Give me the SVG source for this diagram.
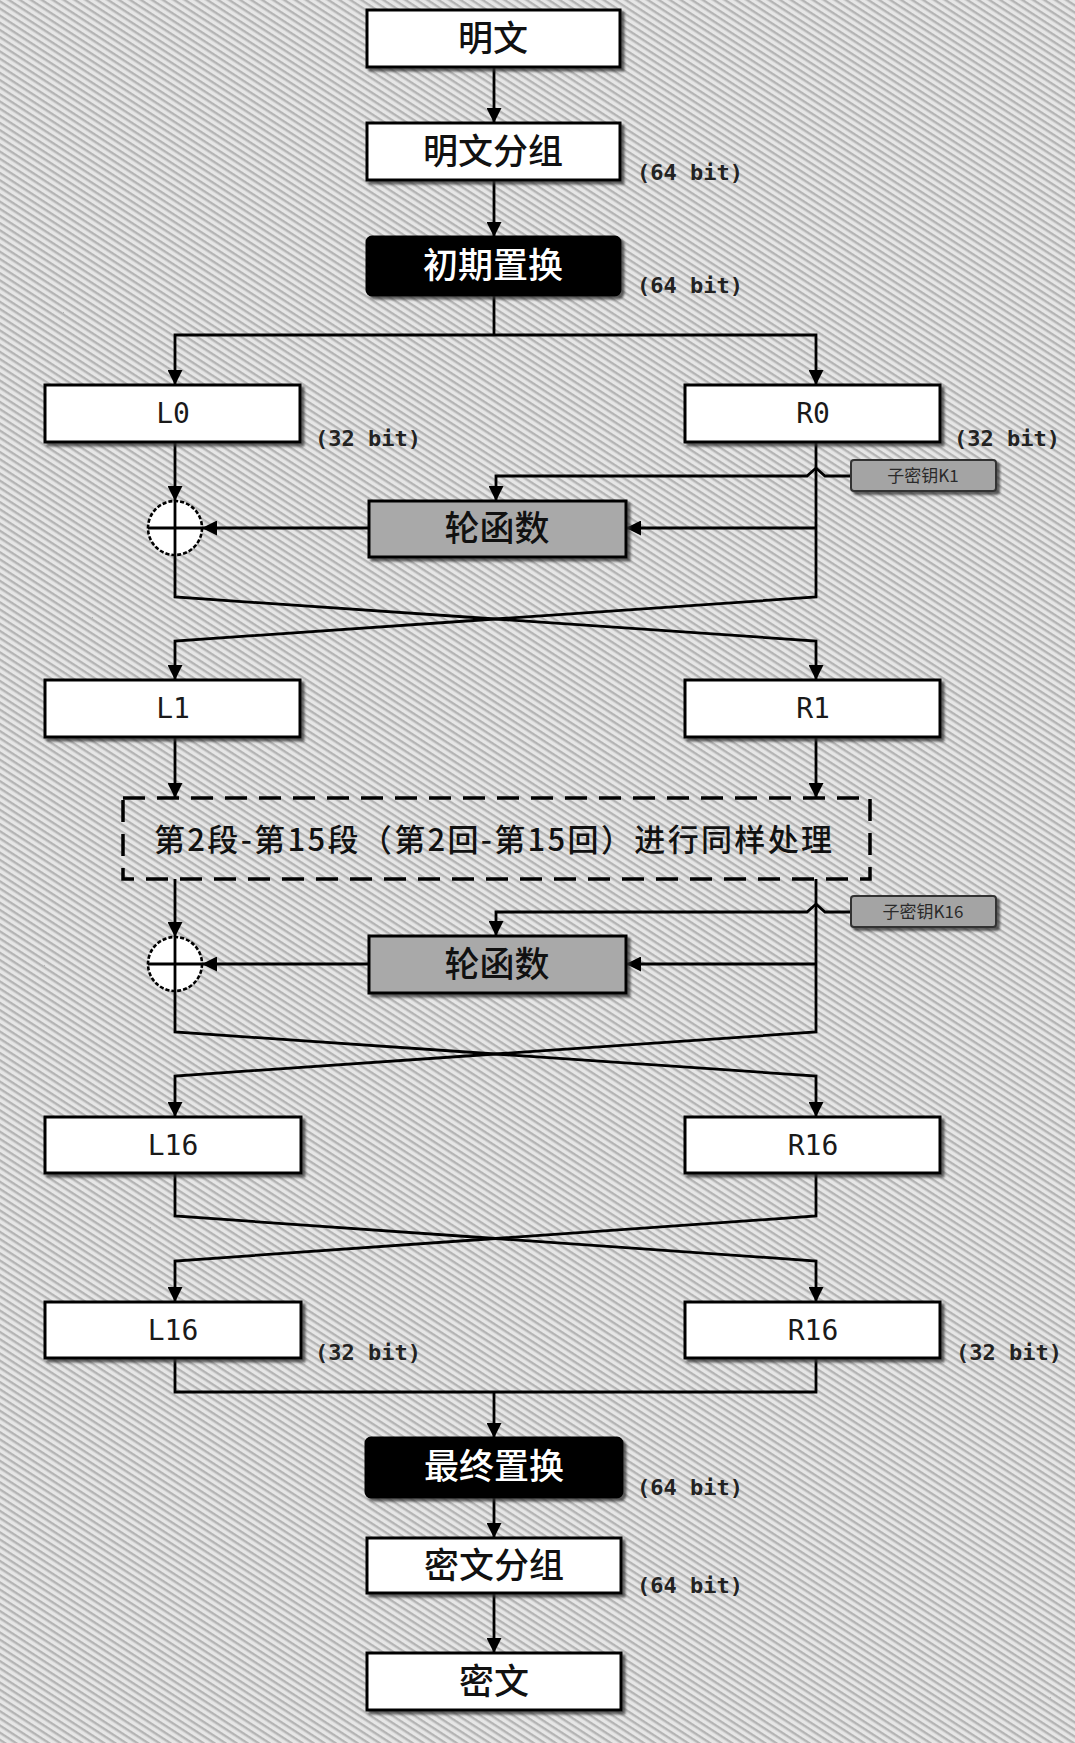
<svg xmlns="http://www.w3.org/2000/svg" width="1075" height="1743" viewBox="0 0 1075 1743">
  <defs>
    <!-- diagonal hatch background -->
    <pattern id="hatch" patternUnits="userSpaceOnUse" width="6" height="6" patternTransform="rotate(33)">
      <rect width="6" height="6" fill="#e6e6e6"/>
      <rect y="0" width="6" height="2.4" fill="#b4b4b4"/>
    </pattern>
    <filter id="shadow" x="-10%" y="-20%" width="125%" height="150%">
      <feDropShadow dx="3" dy="3" stdDeviation="1.2" flood-color="#333" flood-opacity="0.75"/>
    </filter>
    <marker id="arrow" viewBox="0 0 16 16" refX="16" refY="8" markerWidth="15" markerHeight="15" markerUnits="userSpaceOnUse" orient="auto">
      <path d="M0,0 L16,8 L0,16 z" fill="#000"/>
    </marker>
    <style>
      .box { fill: #fff; stroke: #000; stroke-width: 3; filter: url(#shadow); }
      .dark { fill: #000; stroke: #000; stroke-width: 3; filter: url(#shadow); }
      .func { fill: #a9a9a9; stroke: #000; stroke-width: 3; filter: url(#shadow); }
      .key { fill: #a4a4a4; stroke: #333; stroke-width: 2; filter: url(#shadow); }
      .cjk { font-family: "Noto Sans CJK SC", "Noto Sans", sans-serif; font-size: 35px; font-weight: 500; text-anchor: middle; fill: #111; }
      .cjk-w { font-family: "Noto Sans CJK SC", "Noto Sans", sans-serif; font-size: 35px; font-weight: 500; text-anchor: middle; fill: #fff; }
      .mono { font-family: "DejaVu Sans Mono", "Liberation Mono", "Noto Sans CJK SC", monospace; font-size: 28px; text-anchor: middle; fill: #1a1a1a; }
      .bits { font-family: "DejaVu Sans Mono", "Liberation Mono", monospace; font-size: 22px; font-weight: bold; fill: #222; }
      .keytxt { font-family: "Noto Sans CJK SC", "Noto Sans", sans-serif; font-size: 17px; text-anchor: middle; fill: #2a2a2a; }
      .note { font-family: "Noto Sans CJK SC", "Noto Sans", sans-serif; font-size: 31px; font-weight: 500; text-anchor: middle; fill: #111; }
      .wire { fill: none; stroke: #000; stroke-width: 2.8; }
      .arr { marker-end: url(#arrow); }
      .xor { fill: #fff; stroke: #000; stroke-width: 2.6; stroke-dasharray: 4 2; }
      .dash { fill: none; stroke: #000; stroke-width: 3.5; stroke-dasharray: 22 12; }
    </style>
  </defs>

  <rect width="1075" height="1743" fill="url(#hatch)"/>

  <!-- connectors -->
  <g id="connectors">
    <path class="wire arr" d="M494,67 V123"/>
    <path class="wire arr" d="M494,180 V237"/>
    <path class="wire" d="M494,295 V335"/>
    <path class="wire arr" d="M494,335 H175 V385"/>
    <path class="wire arr" d="M494,335 H816 V385"/>

    <!-- round 1 -->
    <path class="wire arr" d="M175,442 V501"/>
    <path class="wire arr" d="M369,528 H202"/>
    <path class="wire arr" d="M816,528 H626"/>
    <path class="wire arr" d="M851,476 H825 L816,468 L807,476 H496 V501"/>
    <path class="wire arr" d="M816,442 V597 L175,641 V680"/>
    <path class="wire arr" d="M175,555 V597 L816,641 V680"/>

    <path class="wire arr" d="M175,737 V798"/>
    <path class="wire arr" d="M816,737 V798"/>

    <!-- round 16 -->
    <path class="wire arr" d="M175,879 V937"/>
    <path class="wire arr" d="M369,964 H202"/>
    <path class="wire arr" d="M816,964 H626"/>
    <path class="wire arr" d="M851,912 H825 L816,904 L807,912 H496 V936"/>
    <path class="wire arr" d="M816,879 V1032 L175,1076 V1117"/>
    <path class="wire arr" d="M175,991 V1032 L816,1076 V1117"/>

    <!-- final swap -->
    <path class="wire arr" d="M175,1173 V1216 L816,1261 V1302"/>
    <path class="wire arr" d="M816,1173 V1216 L175,1261 V1302"/>

    <!-- merge and output -->
    <path class="wire" d="M175,1358 V1392 H816 V1358"/>
    <path class="wire arr" d="M494,1392 V1438"/>
    <path class="wire arr" d="M494,1497 V1538"/>
    <path class="wire arr" d="M494,1593 V1653"/>
  </g>

  <!-- nodes -->
  <g id="plaintext">
    <rect class="box" x="367" y="10" width="253" height="57"/>
    <text class="cjk" x="493" y="51">明文</text>
  </g>
  <g id="plain-block">
    <rect class="box" x="367" y="123" width="253" height="57"/>
    <text class="cjk" x="493" y="164">明文分组</text>
    <text class="bits" x="637" y="180">(64 bit)</text>
  </g>
  <g id="initial-perm">
    <rect class="dark" x="367" y="237" width="253" height="58" rx="5"/>
    <text class="cjk-w" x="493" y="278">初期置换</text>
    <text class="bits" x="637" y="293">(64 bit)</text>
  </g>

  <g id="L0">
    <rect class="box" x="45" y="385" width="255" height="57"/>
    <text class="mono" x="173" y="423">L0</text>
    <text class="bits" x="315" y="446">(32 bit)</text>
  </g>
  <g id="R0">
    <rect class="box" x="685" y="385" width="255" height="57"/>
    <text class="mono" x="813" y="423">R0</text>
    <text class="bits" x="954" y="446">(32 bit)</text>
  </g>
  <g id="key1">
    <rect class="key" x="851" y="460" width="145" height="31" rx="3"/>
    <text class="keytxt" x="923" y="482">子密钥K1</text>
  </g>
  <g id="f1">
    <rect class="func" x="369" y="501" width="257" height="56"/>
    <text class="cjk" x="497" y="541">轮函数</text>
  </g>
  <g id="xor1">
    <circle class="xor" cx="175" cy="528" r="27"/>
    <path class="wire" d="M148,528 H202 M175,501 V555"/>
  </g>

  <g id="L1">
    <rect class="box" x="45" y="680" width="255" height="57"/>
    <text class="mono" x="173" y="718">L1</text>
  </g>
  <g id="R1">
    <rect class="box" x="685" y="680" width="255" height="57"/>
    <text class="mono" x="813" y="718">R1</text>
  </g>

  <g id="rounds-2-15">
    <rect class="dash" x="123" y="798" width="747" height="81"/>
    <text class="note" x="493" y="851" textLength="678" lengthAdjust="spacing">第2段-第15段（第2回-第15回）进行同样处理</text>
  </g>

  <g id="key16">
    <rect class="key" x="851" y="896" width="145" height="31" rx="3"/>
    <text class="keytxt" x="923" y="918">子密钥K16</text>
  </g>
  <g id="f16">
    <rect class="func" x="369" y="936" width="257" height="57"/>
    <text class="cjk" x="497" y="977">轮函数</text>
  </g>
  <g id="xor16">
    <circle class="xor" cx="175" cy="964" r="27"/>
    <path class="wire" d="M148,964 H202 M175,937 V991"/>
  </g>

  <g id="L16">
    <rect class="box" x="45" y="1117" width="256" height="56"/>
    <text class="mono" x="173" y="1155">L16</text>
  </g>
  <g id="R16">
    <rect class="box" x="685" y="1117" width="255" height="56"/>
    <text class="mono" x="813" y="1155">R16</text>
  </g>

  <g id="L16-out">
    <rect class="box" x="45" y="1302" width="256" height="56"/>
    <text class="mono" x="173" y="1340">L16</text>
    <text class="bits" x="315" y="1360">(32 bit)</text>
  </g>
  <g id="R16-out">
    <rect class="box" x="685" y="1302" width="255" height="56"/>
    <text class="mono" x="813" y="1340">R16</text>
    <text class="bits" x="956" y="1360">(32 bit)</text>
  </g>

  <g id="final-perm">
    <rect class="dark" x="366" y="1438" width="256" height="59" rx="5"/>
    <text class="cjk-w" x="494" y="1479">最终置换</text>
    <text class="bits" x="637" y="1495">(64 bit)</text>
  </g>
  <g id="cipher-block">
    <rect class="box" x="367" y="1538" width="254" height="55"/>
    <text class="cjk" x="494" y="1578">密文分组</text>
    <text class="bits" x="637" y="1593">(64 bit)</text>
  </g>
  <g id="ciphertext">
    <rect class="box" x="367" y="1653" width="254" height="57"/>
    <text class="cjk" x="494" y="1694">密文</text>
  </g>
</svg>
